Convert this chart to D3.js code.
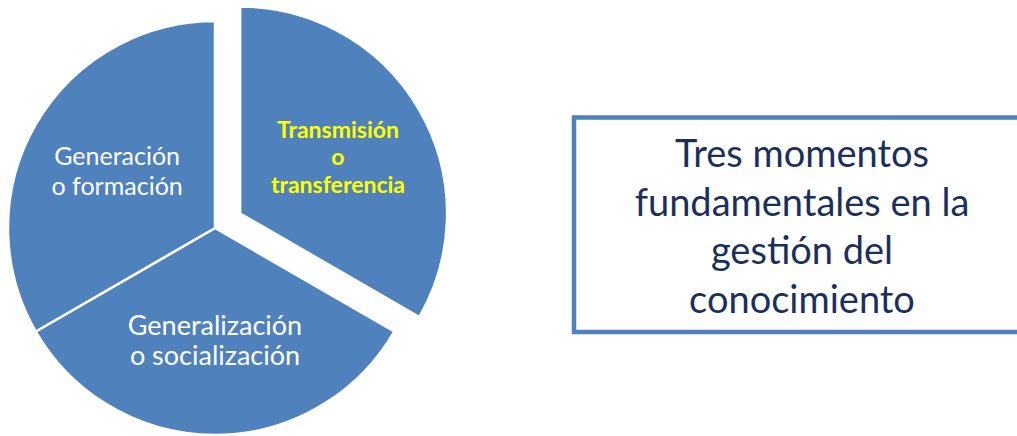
<!DOCTYPE html>
<html>
<head>
<meta charset="utf-8">
<script src="https://cdn.jsdelivr.net/npm/d3@7"></script>
<style>
  html, body { margin: 0; padding: 0; background: #fff; }
  svg { display: block; }
</style>
</head>
<body>
<svg id="chart"></svg>
<script>
'use strict';

const WIDTH = 1017;
const HEIGHT = 436;

// three equal moments, clockwise from 12 o'clock
const moments = ['Transmisión o transferencia', 'Generalización o socialización', 'Generación o formación'];
const shares = [1, 1, 1];
const labelLines = [
    ['Transmisión', 'o', 'transferencia'],
    ['Generalización', 'o socialización'],
    ['Generación', 'o formación']
];
const highlighted = 'Transmisión o transferencia'; // pulled out, yellow bold text
const titleLines = ['Tres momentos', 'fundamentales en la', 'gestión del', 'conocimiento'];

const COLOR = {
    SLICE: '#4F81BD',
    EDGE: '#FFFFFF',
    TEXT: '#FFFFFF',
    HIGHLIGHT: '#FFFF00',
    BOX: '#4F81BD',
    TITLE: '#1B2F5E'
};

const FONT = 'Lato, "Open Sans", "Noto Sans", sans-serif';
// label font sizes, same order as the slices
const LABEL_SIZE = [23, 27, 25];

const svg = d3.select('#chart').attr('width', WIDTH).attr('height', HEIGHT);

// pie
const cx = 215, cy = 228, R = 207;
const EXPLODE = 29;
const LABEL_R = 113;

const pie = d3.pie().sort(null).value(function(d) { return d.v; });
const arc = d3.arc().innerRadius(0).outerRadius(R);
const labelArc = d3.arc().innerRadius(LABEL_R).outerRadius(LABEL_R);

const data = moments.map(function(m, i) { return {name: m, v: shares[i], lines: labelLines[i], i: i}; });

const g = svg.append('g').attr('transform', 'translate(' + cx + ',' + cy + ')');

const slice = g.selectAll('g.slice')
    .data(pie(data))
    .enter()
    .append('g')
    .attr('class', 'slice')
    .attr('transform', function(d) {
        if (d.data.name != highlighted) return null;
        let a = (d.startAngle + d.endAngle) / 2;
        return 'translate(' + (Math.sin(a) * EXPLODE) + ',' + (-Math.cos(a) * EXPLODE) + ')';
    });

slice.append('path')
    .attr('d', arc)
    .attr('fill', COLOR.SLICE)
    .attr('stroke', COLOR.EDGE)
    .attr('stroke-width', 2.5)
    .attr('stroke-linejoin', 'round');

slice.each(function(d) {
    let hi = d.data.name == highlighted;
    let c = labelArc.centroid(d);
    let lh = hi ? 27.5 : 30;
    let n = d.data.lines.length;
    let t = d3.select(this).append('text')
        .attr('x', c[0])
        .attr('y', c[1])
        .attr('text-anchor', 'middle')
        .attr('font-family', FONT)
        .attr('font-size', LABEL_SIZE[d.data.i])
        .attr('font-weight', hi ? 'bold' : 'normal')
        .attr('fill', hi ? COLOR.HIGHLIGHT : COLOR.TEXT);
    d.data.lines.forEach(function(line, i) {
        t.append('tspan')
            .attr('x', c[0])
            .attr('y', c[1] + (i - (n - 1) / 2) * lh)
            .attr('dy', '0.35em')
            .text(line);
    });
});

// title box
const box = {x: 574, y: 117.5, w: 470, h: 214.5};
svg.append('rect')
    .attr('x', box.x)
    .attr('y', box.y)
    .attr('width', box.w)
    .attr('height', box.h)
    .attr('fill', '#fff')
    .attr('stroke', COLOR.BOX)
    .attr('stroke-width', 4.5);

const title = svg.append('text')
    .attr('text-anchor', 'middle')
    .attr('font-family', FONT)
    .attr('font-size', 38)
    .attr('fill', COLOR.TITLE);

const baselines = d3.scaleLinear().domain([0, titleLines.length - 1]).range([167, 313]);
titleLines.forEach(function(line, i) {
    title.append('tspan')
        .attr('x', 802)
        .attr('y', baselines(i))
        .text(line);
});
</script>
</body>
</html>
